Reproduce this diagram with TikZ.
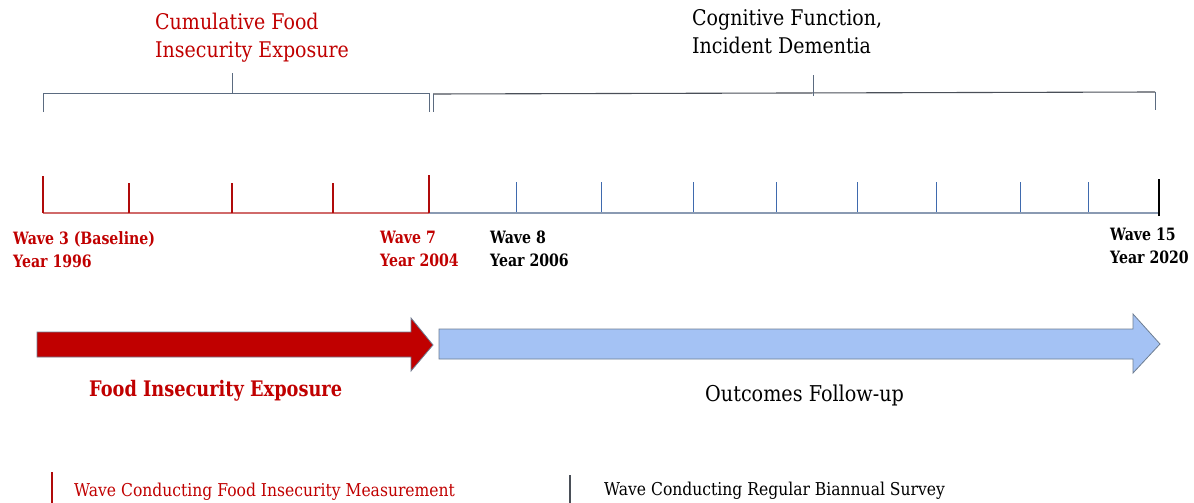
\documentclass[tikz,border=0pt]{standalone}
\usepackage{fontspec}
\usetikzlibrary{calc}
\setmainfont{DejaVu Serif}[FakeStretch=0.88]
\newfontfamily\boldf{DejaVu Serif Bold}[FakeStretch=0.83]
\definecolor{fired}{HTML}{C00000}
\definecolor{tlred}{HTML}{D06A6A}
\definecolor{tkred}{HTML}{B00A0A}
\definecolor{tlblue}{HTML}{8A9AB2}
\definecolor{tkblue}{HTML}{3F6AAE}
\definecolor{brk}{HTML}{5B6B80}
\definecolor{brkdark}{HTML}{4A4F58}
\definecolor{arrfill}{HTML}{A4C2F4}
\definecolor{arredge}{HTML}{6E7E92}
\tikzset{
  brline/.style={draw=brk, line width=1pt},
  redtick/.style={draw=tkred, line width=1.2pt},
  bluetick/.style={draw=tkblue, line width=1pt},
  twoline/.style={anchor=north west, inner sep=0pt, align=left},
  wavelbl/.style={twoline, font=\boldf\fontsize{17}{23}\selectfont},
  toplbl/.style={twoline, font=\fontsize{21.6}{28}\selectfont},
  bigarrow/.style={draw=arredge, line width=0.8pt, line join=miter},
}
\begin{document}
\begin{tikzpicture}[x=1pt,y=-1pt]
\useasboundingbox (0,0) rectangle (1194,503);

% ---------- top labels ----------
\node[toplbl, text=fired] (cumlbl) at (155,13) {Cumulative Food\\Insecurity Exposure};
\node[toplbl, text=black] (coglbl) at (692,9) {Cognitive Function,\\Incident Dementia};

% ---------- brackets ----------
\coordinate (bL1) at (43,93);  \coordinate (bL2) at (429,93);
\coordinate (bLc) at (232,93); \coordinate (bLt) at (232,73);
\draw[brline] ($(bL1)+(0,19)$) -- (bL1) -- (bL2) -- ($(bL2)+(0,19)$);
\draw[brline] (bLc) -- (bLt);

\coordinate (bR1) at (433,94); \coordinate (bR2) at (1155,92);
\coordinate (bRc) at (813,96); \coordinate (bRt) at (813,75);
\draw[draw=brkdark, line width=1.1pt] (bR1) -- (bR2);
\draw[brline] (bR1) -- ++(0,18);
\draw[brline] (bR2) -- ++(0,18);
\draw[brline] (bRc) -- (bRt);

% ---------- timeline ----------
\coordinate (t0) at (43,213);
\coordinate (t7) at (429,213);
\coordinate (tE) at (1159,213);
\draw[draw=tlred, line width=1.3pt] (t0) -- (t7);
\draw[draw=tlblue, line width=1.3pt] (t7) -- (tE);
% red ticks
\draw[redtick, line width=1.6pt] (t0) -- ++(0,-37);
\foreach \x in {129,232,333}{ \draw[redtick] (\x,213) -- (\x,183); }
\draw[redtick, line width=1.8pt] (t7) -- ++(0,-38);
% blue ticks
\foreach \x in {516,601,693,776,857,936,1020,1088}{ \draw[bluetick] (\x,212) -- (\x,182); }
\draw[draw=black, line width=1.8pt] ($(tE)+(0,3)$) -- ++(0,-37);

% wave labels
\node[wavelbl, text=fired] (w3) at (13,231) {Wave 3 (Baseline)\\Year 1996};
\node[wavelbl, text=fired] (w7) at (380,231) {Wave 7\\Year 2004};
\node[wavelbl, text=black] (w8) at (490,231) {Wave 8\\Year 2006};
\node[wavelbl, text=black] (w15) at (1110,228) {Wave 15\\Year 2020};

% ---------- big arrows ----------
\draw[bigarrow, fill=fired] (37,332) -- (411,332) -- (411,318) -- (433,345) -- (411,371) -- (411,357) -- (37,357) -- cycle;
\draw[bigarrow, fill=arrfill] (439,329) -- (1133,329) -- (1133,314) -- (1160,344) -- (1133,373) -- (1133,359) -- (439,359) -- cycle;

\node[anchor=base west, inner sep=0pt, text=fired, font=\boldf\fontsize{21.4}{25}\selectfont] (fiexp) at (89,396) {Food Insecurity Exposure};
\node[anchor=base west, inner sep=0pt, text=black, font=\fontsize{21.8}{25}\selectfont] (outfu) at (705,401) {Outcomes Follow-up};

% ---------- legend ----------
\coordinate (lgR) at (52,472);
\coordinate (lgB) at (570,475);
\draw[draw=tkred, line width=1.2pt] (lgR) -- ++(0,31);
\draw[draw=brkdark, line width=1.2pt] (lgB) -- ++(0,28);
\node[anchor=base west, inner sep=0pt, text=fired, font=\fontsize{17.7}{20}\selectfont] (lgRt) at (74,496) {Wave Conducting Food Insecurity Measurement};
\node[anchor=base west, inner sep=0pt, text=black, font=\fontsize{17.7}{20}\selectfont] (lgBt) at (604,495) {Wave Conducting Regular Biannual Survey};
\end{tikzpicture}
\end{document}
